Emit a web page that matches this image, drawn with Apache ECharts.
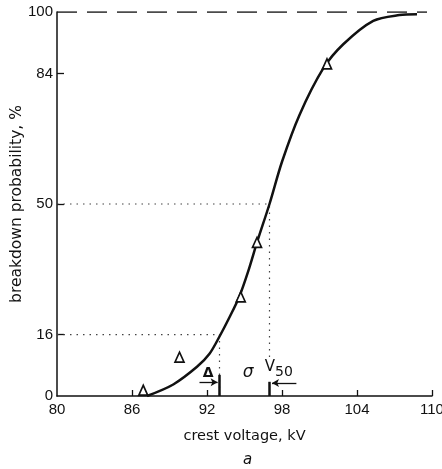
<!DOCTYPE html>
<html>
<head>
<meta charset="utf-8">
<style>
html, body { margin: 0; padding: 0; background: #fff; }
#chart { width: 442px; height: 469px; }
</style>
</head>
<body>
<div id="chart"></div>
<script src="https://cdn.jsdelivr.net/npm/echarts@6.0.0/dist/echarts.min.js"></script>
<script>
// x: crest voltage (kV), y: breakdown probability (%)
const xLabels = [80, 86, 92, 98, 104, 110]
const xTickVals = [86, 92, 98, 104, 110]
const yLabels = [0, 16, 50, 84, 100]
const yTickVals = [16, 50, 84]

// hand drawn fitted curve
const curve = [
	[87.2, 0], [89.3, 3.0], [91.2, 7.6], [92.2, 11.0], [93.0, 15.5],
	[93.8, 20.5], [94.6, 26.0], [95.3, 32.5], [96.0, 40.0], [97.0, 50],
	[98.0, 61.0], [99.4, 73.2], [101.3, 85.3], [102.9, 91.6], [105.3, 97.7],
	[107.4, 99.2], [108.8, 99.4],
]
// measured points (open triangles)
const measured = [[86.9, 1.5], [89.8, 10.1], [94.7, 25.8], [96.0, 40.0], [101.6, 86.5]]

const V50 = 97.0
const V16 = 93.0
const line100 = [[80, 100], [109.6, 100]]
const dotted50 = [[80, 50], [V50, 50], [V50, 9.4]]
const dotted16 = [[80, 16], [V16, 16], [V16, 0]]

// annotation texts
const notes = [
	{ value: [92.1, 6.0], text: '{b|Δ}' },
	{ value: [95.3, 6.0], text: '{i|σ}' },
	{ value: [97.75, 7.6], text: 'V{s|50}' },
]

const FONT = 'DejaVu Sans'
const BLACK = '#111'

const myChart = echarts.init(document.getElementById('chart'))
const option = {
	animation: false,
	grid: { left: 57, right: 10, top: 12, bottom: 73, containLabel: false, outerBoundsMode: 'none' },
	xAxis: {
		type: 'value',
		min: 80,
		max: 110,
		axisLine: { lineStyle: { color: BLACK, width: 1.5 } },
		axisTick: { inside: true, length: 6, customValues: xTickVals, lineStyle: { color: BLACK, width: 1.3 } },
		axisLabel: { customValues: xLabels, color: BLACK, fontSize: 15, fontFamily: 'Liberation Sans', margin: 6 },
		splitLine: { show: false },
		name: 'crest voltage, kV',
		nameLocation: 'middle',
		nameGap: 33,
		nameMoveOverlap: false,
		nameTextStyle: { color: BLACK, fontSize: 14.5, fontFamily: FONT },
	},
	yAxis: {
		type: 'value',
		min: 0,
		max: 100,
		axisLine: { show: true, lineStyle: { color: BLACK, width: 1.5 } },
		axisTick: { show: true, inside: true, length: 7, customValues: yTickVals, lineStyle: { color: BLACK, width: 1.3 } },
		axisLabel: { customValues: yLabels, color: BLACK, fontSize: 15, fontFamily: 'Liberation Sans', margin: 4 },
		splitLine: { show: false },
		name: 'breakdown probability, %',
		nameLocation: 'middle',
		nameGap: 32,
		nameMoveOverlap: false,
		nameTextStyle: { color: BLACK, fontSize: 15.5, fontFamily: FONT },
	},
	series: [
		{
			name: '100',
			type: 'line',
			data: line100,
			showSymbol: false,
			lineStyle: { color: BLACK, width: 1.5, type: [20, 10] },
		},
		{
			name: 'd50',
			type: 'line',
			data: dotted50,
			showSymbol: false,
			lineStyle: { color: '#444', width: 1.2, type: [1.5, 5] },
		},
		{
			name: 'd16',
			type: 'line',
			data: dotted16,
			showSymbol: false,
			lineStyle: { color: '#444', width: 1.2, type: [1.5, 5] },
		},
		{
			name: 'curve',
			type: 'line',
			data: curve,
			smooth: 0.3,
			showSymbol: false,
			lineStyle: { color: BLACK, width: 2.5 },
		},
		{
			name: 'measured',
			type: 'scatter',
			data: measured,
			symbol: 'triangle',
			symbolSize: [9, 10],
			itemStyle: { color: '#fff', borderColor: BLACK, borderWidth: 1.7, opacity: 1 },
			z: 5,
			markLine: {
				silent: true,
				symbol: ['none', 'arrow'],
				symbolSize: [6, 7],
				label: { show: false },
				lineStyle: { color: BLACK, width: 1.3, type: 'solid' },
				data: [
					[{ coord: [91.4, 3.6] }, { coord: [92.85, 3.6] }],
					[{ coord: [99.15, 3.4] }, { coord: [97.2, 3.4] }],
					[{ coord: [V16, 0], symbol: 'none' }, { coord: [V16, 5.5], symbol: 'none', lineStyle: { width: 2.5 } }],
					[{ coord: [V50, 0], symbol: 'none' }, { coord: [V50, 3.7], symbol: 'none', lineStyle: { width: 2.5 } }],
				],
			},
		},
		{
			name: 'notes',
			type: 'scatter',
			data: notes.map((n) => ({ value: n.value, text: n.text })),
			symbol: 'circle',
			symbolSize: 1,
			itemStyle: { color: 'rgba(0,0,0,0)', opacity: 1 },
			silent: true,
			z: 6,
			label: {
				show: true,
				position: 'inside',
				formatter: (p) => p.data.text,
				color: BLACK,
				fontSize: 15,
				fontFamily: FONT,
				rich: {
					b: { fontSize: 14, fontWeight: 'bold', fontFamily: FONT, color: BLACK },
					i: { fontSize: 17, fontStyle: 'italic', fontFamily: FONT, color: BLACK },
					s: { fontSize: 14, fontFamily: FONT, color: BLACK, padding: [12, 0, 0, 0] },
				},
			},
		},
	],
	graphic: [
		{
			type: 'text',
			left: 243,
			top: 453,
			style: { text: 'a', fontSize: 15, fontStyle: 'italic', fontFamily: FONT, fill: BLACK },
		},
	],
}
myChart.setOption(option)
</script>
</body>
</html>
